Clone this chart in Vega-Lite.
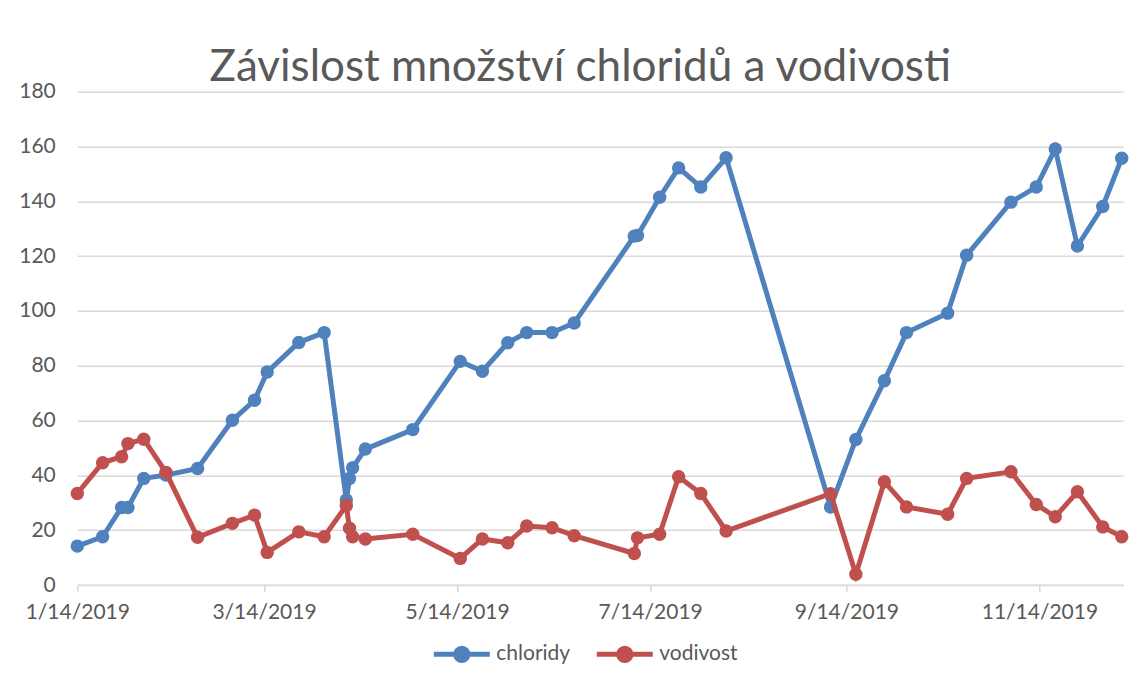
{
  "$schema": "https://vega.github.io/schema/vega-lite/v6.json",
  "autosize": {"type": "none"},
  "width": 1046,
  "height": 493.3,
  "padding": {"left": 77.3, "top": 91.7, "right": 8.7, "bottom": 104},
  "background": "white",
  "title": {
    "text": "Závislost množství chloridů a vodivosti",
    "font": "Lato",
    "fontSize": 44,
    "fontWeight": "normal",
    "color": "#595959",
    "anchor": "middle",
    "frame": "group",
    "dx": -20,
    "offset": -9
  },
  "data": {
    "values": [
      {"date": "2019/01/14", "chloridy": 14.2, "vodivost": 33.4},
      {"date": "2019/01/22", "chloridy": 17.6, "vodivost": 44.6},
      {"date": "2019/01/28", "chloridy": 28.3, "vodivost": 46.8},
      {"date": "2019/01/30", "chloridy": 28.3, "vodivost": 51.6},
      {"date": "2019/02/04", "chloridy": 38.9, "vodivost": 53.2},
      {"date": "2019/02/11", "chloridy": 40.1, "vodivost": 41.1},
      {"date": "2019/02/21", "chloridy": 42.5, "vodivost": 17.4},
      {"date": "2019/03/04", "chloridy": 60.1, "vodivost": 22.5},
      {"date": "2019/03/11", "chloridy": 67.4, "vodivost": 25.5},
      {"date": "2019/03/15", "chloridy": 77.7, "vodivost": 11.9},
      {"date": "2019/03/25", "chloridy": 88.5, "vodivost": 19.4},
      {"date": "2019/04/02", "chloridy": 92.1, "vodivost": 17.6},
      {"date": "2019/04/09", "chloridy": 31.0, "vodivost": 29.0},
      {"date": "2019/04/10", "chloridy": 38.9, "vodivost": 20.7},
      {"date": "2019/04/11", "chloridy": 42.8, "vodivost": 17.6},
      {"date": "2019/04/15", "chloridy": 49.6, "vodivost": 16.8},
      {"date": "2019/04/30", "chloridy": 56.7, "vodivost": 18.5},
      {"date": "2019/05/15", "chloridy": 81.6, "vodivost": 9.7},
      {"date": "2019/05/22", "chloridy": 78.0, "vodivost": 16.8},
      {"date": "2019/05/30", "chloridy": 88.4, "vodivost": 15.4},
      {"date": "2019/06/05", "chloridy": 92.1, "vodivost": 21.5},
      {"date": "2019/06/13", "chloridy": 92.1, "vodivost": 20.9},
      {"date": "2019/06/20", "chloridy": 95.6, "vodivost": 18.0},
      {"date": "2019/07/09", "chloridy": 127.3, "vodivost": 11.5},
      {"date": "2019/07/10", "chloridy": 127.5, "vodivost": 17.2},
      {"date": "2019/07/17", "chloridy": 141.5, "vodivost": 18.5},
      {"date": "2019/07/23", "chloridy": 152.2, "vodivost": 39.5},
      {"date": "2019/07/30", "chloridy": 145.2, "vodivost": 33.4},
      {"date": "2019/08/07", "chloridy": 155.9, "vodivost": 19.7},
      {"date": "2019/09/09", "chloridy": 28.5, "vodivost": 33.3},
      {"date": "2019/09/17", "chloridy": 53.1, "vodivost": 3.9},
      {"date": "2019/09/26", "chloridy": 74.5, "vodivost": 37.7},
      {"date": "2019/10/03", "chloridy": 92.1, "vodivost": 28.5},
      {"date": "2019/10/16", "chloridy": 99.2, "vodivost": 25.8},
      {"date": "2019/10/22", "chloridy": 120.3, "vodivost": 38.9},
      {"date": "2019/11/05", "chloridy": 139.7, "vodivost": 41.3},
      {"date": "2019/11/13", "chloridy": 145.2, "vodivost": 29.4},
      {"date": "2019/11/19", "chloridy": 159.1, "vodivost": 24.9},
      {"date": "2019/11/26", "chloridy": 123.7, "vodivost": 34.0},
      {"date": "2019/12/04", "chloridy": 138.1, "vodivost": 21.2},
      {"date": "2019/12/10", "chloridy": 155.7, "vodivost": 17.6}
    ]
  },
  "transform": [
    {"fold": ["chloridy", "vodivost"], "as": ["series", "value"]}
  ],
  "encoding": {
    "x": {
      "field": "date",
      "type": "temporal",
      "title": null,
      "scale": {
        "domain": [
          {"year": 2019, "month": 1, "date": 14},
          {"year": 2019, "month": 12, "date": 10, "hours": 12}
        ]
      },
      "axis": {
        "values": [
          {"year": 2019, "month": 1, "date": 14},
          {"year": 2019, "month": 3, "date": 14},
          {"year": 2019, "month": 5, "date": 14},
          {"year": 2019, "month": 7, "date": 14},
          {"year": 2019, "month": 9, "date": 14},
          {"year": 2019, "month": 11, "date": 14}
        ],
        "format": "%-m/%-d/%Y",
        "grid": false,
        "domainColor": "#d9d9d9",
        "domainWidth": 1.5,
        "tickColor": "#d9d9d9",
        "tickWidth": 1.5,
        "tickSize": 7,
        "labelPadding": 9,
        "labelFont": "Lato",
        "labelFontSize": 21,
        "labelColor": "#595959",
        "labelFlush": false,
        "labelOverlap": false
      }
    },
    "y": {
      "field": "value",
      "type": "quantitative",
      "title": null,
      "scale": {"domain": [0, 180], "nice": false},
      "axis": {
        "values": [0, 20, 40, 60, 80, 100, 120, 140, 160, 180],
        "domain": false,
        "ticks": false,
        "tickSize": 0,
        "gridColor": "#d9d9d9",
        "gridWidth": 1.5,
        "labelPadding": 22,
        "labelFont": "Lato",
        "labelFontSize": 21,
        "labelColor": "#595959"
      }
    },
    "color": {
      "field": "series",
      "type": "nominal",
      "scale": {"domain": ["chloridy", "vodivost"], "range": ["#4F81BD", "#C0504D"]},
      "legend": {
        "title": null,
        "orient": "none",
        "direction": "horizontal",
        "legendX": 354,
        "legendY": 532,
        "padding": 0,
        "symbolType": "M-1,0H1M0.22,0A0.22,0.22,0,1,1,-0.22,0A0.22,0.22,0,1,1,0.22,0Z",
        "symbolSize": 3136,
        "symbolStrokeWidth": 5,
        "labelFont": "Lato",
        "labelFontSize": 21,
        "labelColor": "#595959",
        "labelOffset": 4,
        "columnPadding": 16,
        "encode": {
          "symbols": {
            "update": {
              "fill": {"scale": "color", "field": "value"},
              "stroke": {"scale": "color", "field": "value"},
              "opacity": {"value": 1}
            }
          }
        }
      }
    }
  },
  "layer": [
    {
      "transform": [{"filter": "datum.series === 'chloridy'"}],
      "mark": {"type": "line", "strokeWidth": 5, "point": {"filled": true, "size": 180, "opacity": 1}}
    },
    {
      "transform": [{"filter": "datum.series === 'vodivost'"}],
      "mark": {"type": "line", "strokeWidth": 5, "point": {"filled": true, "size": 180, "opacity": 1}}
    }
  ],
  "config": {
    "view": {"stroke": null}
  }
}
